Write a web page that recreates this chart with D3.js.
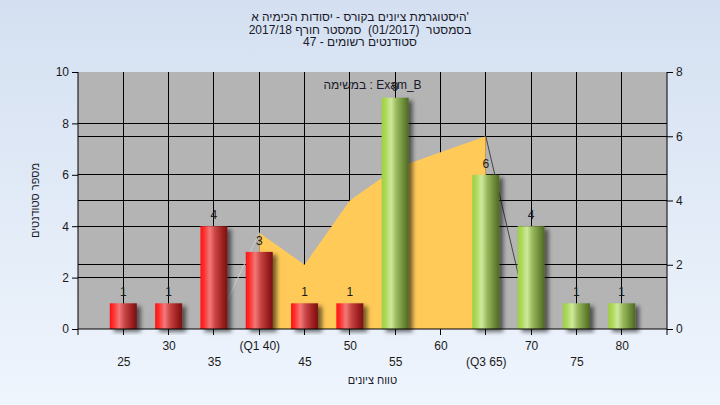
<!DOCTYPE html>
<html><head><meta charset="utf-8">
<script src="https://cdn.jsdelivr.net/npm/d3@7"></script>
<style>
html,body{margin:0;padding:0;}
svg text{font-family:"Liberation Sans",Arial,sans-serif;}
</style>
</head><body>
<svg id="c" width="720" height="405"></svg>
<script>
// ---- data ----
const categories = [25,30,35,40,45,50,55,60,65,70,75,80];
const tickLabels = ["25","30","35","(Q1 40)","45","50","55","60","(Q3 65)","70","75","80"];
const counts = [1,1,4,3,1,1,9,0,6,4,1,1];
const passMark = 55;
const areaCats = [35,40,45,50,55,60,65,70];
const areaValues = [0,3,2,4,5,5.5,6,0];
const leftTicks = [0,2,4,6,8,10];
const rightTicks = [0,2,4,6,8];
const titleLines = ["היסטוגרמת ציונים בקורס - יסודות הכימיה א'", "בסמסטר  (01/2017)  סמסטר חורף 2017/18", "סטודנטים רשומים - 47"];
const xTitle = "טווח ציונים";
const yTitle = "מספר סטודנטים";
const legendText = "במשימה : Exam_B";

// ---- layout ----
const W=720,H=405, L=78, R=667, T=72, B=329;
const svg = d3.select("#c");

const defs = svg.append("defs");
const bg = defs.append("linearGradient").attr("id","bg").attr("x1",0).attr("y1",0).attr("x2",0).attr("y2",1);
bg.append("stop").attr("offset","0%").attr("stop-color","#d4e0f1");
bg.append("stop").attr("offset","100%").attr("stop-color","#eff5fd");
function barGrad(id, stops){
  const g = defs.append("linearGradient").attr("id",id).attr("x1",0).attr("y1",0).attr("x2",1).attr("y2",0);
  stops.forEach(s=>g.append("stop").attr("offset",s[0]).attr("stop-color",s[1]));
}
barGrad("red",[["0%","#ff1414"],["12%","#ff2a2a"],["35%","#f27878"],["55%","#c94444"],["80%","#a02222"],["100%","#781010"]]);
barGrad("green",[["0%","#9fd043"],["12%","#a8d752"],["35%","#cfe99c"],["55%","#98b85c"],["80%","#6f8d3a"],["100%","#4c6a22"]]);
const f = defs.append("filter").attr("id","sh").attr("x","-20%").attr("y","-10%").attr("width","160%").attr("height","130%");
f.append("feDropShadow").attr("dx",4).attr("dy",3).attr("stdDeviation",2).attr("flood-color","#000").attr("flood-opacity",0.55);

svg.append("rect").attr("width",W).attr("height",H).attr("fill","url(#bg)");

// scales
const x = d3.scalePoint().domain(categories).range([L,R]).padding(1);
const yL = d3.scaleLinear().domain([0,10]).range([B,T]);
const yR = d3.scaleLinear().domain([0,8]).range([B,T]);

// plot bg
svg.append("rect").attr("x",L).attr("y",T).attr("width",R-L).attr("height",B-T).attr("fill","#b4b4b4");

// grid
const grid = svg.append("g").attr("stroke","#000").attr("stroke-width",1).attr("shape-rendering","crispEdges");
leftTicks.filter(v=>v>0&&v<10).forEach(v=>grid.append("line").attr("x1",L).attr("x2",R).attr("y1",yL(v)).attr("y2",yL(v)));
rightTicks.filter(v=>v>0&&v<8).forEach(v=>grid.append("line").attr("x1",L).attr("x2",R).attr("y1",yR(v)).attr("y2",yR(v)));
categories.forEach(c=>grid.append("line").attr("x1",x(c)).attr("x2",x(c)).attr("y1",T).attr("y2",B+6));

// area
const pts = areaCats.map((c,i)=>({c, v:areaValues[i]}));
const inner = pts.slice(1, pts.length-1);
const poly = [{c:inner[0].c, v:0}, ...inner, {c:inner[inner.length-1].c, v:0}];
const ln = d3.line().x(d=>x(d.c)).y(d=>yR(d.v));
svg.append("path").attr("d", ln(poly)+"Z").attr("fill","#ffca58");
svg.append("path").attr("d", ln(pts.slice(0,2))).attr("stroke","#cdcdcd").attr("fill","none");
svg.append("path").attr("d", ln(pts.slice(-2))).attr("stroke","#444").attr("fill","none");

// bars
const bw = 27;
const barData = categories.map((c,i)=>({c,v:counts[i]})).filter(d=>d.v>0);
svg.append("g").selectAll("rect").data(barData).join("rect")
  .attr("x",d=>x(d.c)-bw/2).attr("width",bw)
  .attr("y",d=>yL(d.v)).attr("height",d=>B-yL(d.v))
  .attr("fill",d=>d.c<passMark?"url(#red)":"url(#green)")
  .attr("filter","url(#sh)");

// axes
const axL = svg.append("g").attr("transform",`translate(${L},0)`).call(d3.axisLeft(yL).tickValues(leftTicks).tickSize(6).tickPadding(3));
const axR = svg.append("g").attr("transform",`translate(${R},0)`).call(d3.axisRight(yR).tickValues(rightTicks).tickSize(6).tickPadding(3));
const axB = svg.append("g").attr("transform",`translate(0,${B})`).call(d3.axisBottom(x).tickSize(0).tickFormat((d,i)=>tickLabels[i]));
[axL,axR,axB].forEach(a=>{
  a.select(".domain").attr("stroke","#000");
  a.selectAll("line").attr("stroke","#000");
  a.selectAll("text").attr("font-family","'Liberation Sans',Arial,sans-serif").attr("font-size",12).attr("fill","#1a1a1a");
});
axL.select(".domain").attr("d",`M0,${T}V${B+6}`);
axR.select(".domain").attr("d",`M0,${T}V${B+6}`);
axB.select(".domain").attr("d",`M${L},0H${R}`);
axB.selectAll(".tick text").attr("dy",null).attr("y",(d,i)=>i%2===1?21:37);

// bar labels
svg.append("g").selectAll("text").data(barData).join("text")
  .attr("x",d=>x(d.c)).attr("y",d=>yL(d.v)-7).attr("text-anchor","middle")
  .attr("font-size",12).attr("fill","#1a1a1a").text(d=>d.v);

// legend text
svg.append("text").attr("x",(L+R)/2).attr("y",89).attr("text-anchor","middle").attr("font-size",12).attr("fill","#1a1a2a").text(legendText);

// titles
svg.append("g").selectAll("text").data(titleLines).join("text")
  .attr("x",W/2).attr("y",(d,i)=>21+i*12.5).attr("text-anchor","middle")
  .attr("font-size",12).attr("fill","#1a1a2a").style("white-space","pre").text(d=>d);
svg.append("text").attr("x",(L+R)/2).attr("y",384).attr("text-anchor","middle").attr("font-size",11).attr("fill","#1a1a2a").text(xTitle);
svg.append("text").attr("transform",`translate(39,${(T+B)/2}) rotate(-90)`).attr("text-anchor","middle").attr("font-size",11).attr("fill","#1a1a2a").text(yTitle);
</script>
</body></html>
